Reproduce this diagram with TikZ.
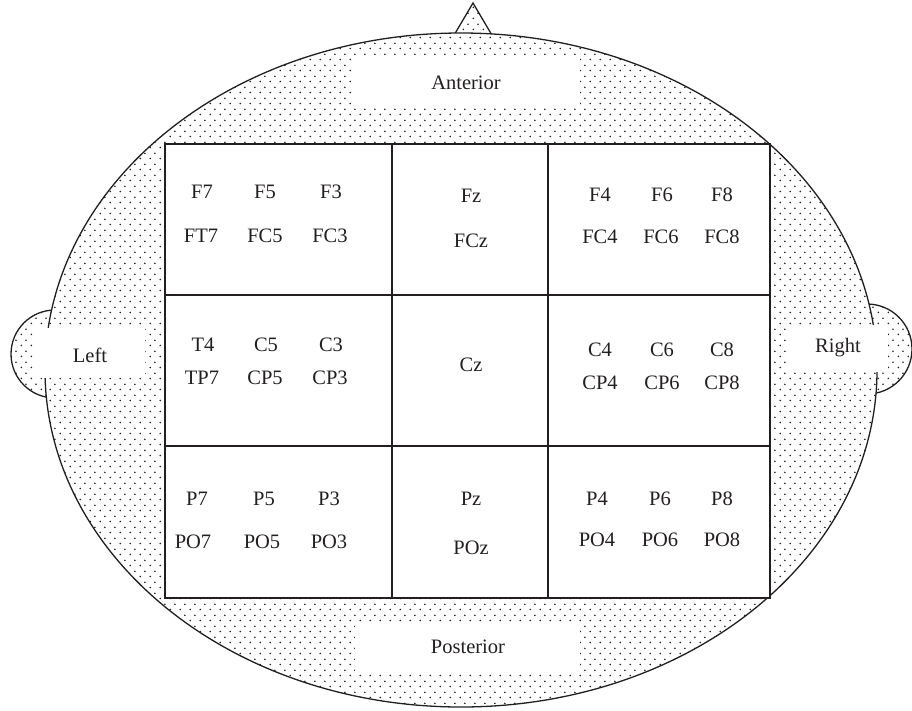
\documentclass[tikz,border=0pt]{standalone}
\usepackage{fontspec}
\setmainfont{Liberation Serif}
\usetikzlibrary{patterns.meta}
\pgfdeclarepattern{
  name=headdots,
  type=uncolored,
  bottom left={\pgfpoint{0pt}{0pt}},
  top right={\pgfpoint{9.6pt}{10.6pt}},
  tile size={\pgfpoint{9.6pt}{10.6pt}},
  code={
    \pgfpathcircle{\pgfpoint{2.4pt}{2.65pt}}{0.9pt}
    \pgfpathcircle{\pgfpoint{7.2pt}{7.95pt}}{0.9pt}
    \pgfusepath{fill}
  }
}
\definecolor{ink}{HTML}{231F20}
\tikzset{
  dotfill/.style={pattern=headdots, pattern color=ink},
  outline/.style={draw=ink, line width=1.3pt},
  whitebox/.style={fill=white, draw=none, inner sep=0pt},
  cell/.style={draw=ink, fill=white, line width=1.1pt, inner sep=0pt},
  lab/.style={inner sep=0pt, text=ink, font=\fontsize{20.5}{23}\selectfont},
}
\begin{document}
\begin{tikzpicture}[x=1pt,y=-1pt]
\useasboundingbox (0,0) rectangle (912,710);
% ears
\path[dotfill] (55,354) circle[radius=44];
\draw[outline] (55,354) circle[radius=44];
\path[dotfill] (867,349) circle[radius=45];
\draw[outline] (867,349) circle[radius=45];
% nose
\path[dotfill] (450,42) -- (473,3) -- (496,42) -- cycle;
\draw[outline, line join=miter] (450,42) -- (473,3) -- (496,42);
% head
\path[fill=white] (461,370) ellipse[x radius=416, y radius=337];
\path[dotfill] (461,370) ellipse[x radius=416, y radius=337];
\draw[outline] (461,370) ellipse[x radius=416, y radius=337];
% white label boxes
\node[whitebox, minimum width=228pt, minimum height=48pt] (antbox) at (466,81) {};
\node[whitebox, minimum width=225pt, minimum height=49pt] (posbox) at (467.5,647.5) {};
\node[whitebox, minimum width=110pt, minimum height=50pt] (leftbox) at (90,353) {};
\node[whitebox, minimum width=101pt, minimum height=47pt] (rightbox) at (837.5,348.5) {};
\node[lab] (ant) at (466,83) {Anterior};
\node[lab] (pos) at (468,647) {Posterior};
\node[lab] (left) at (90,355) {Left};
\node[lab] (right) at (838,348) {Right};
% grid cells
\node[cell, minimum width=227pt, minimum height=151pt] (c11) at (278.5,219.5) {};
\node[cell, minimum width=156pt, minimum height=151pt] (c12) at (470,219.5) {};
\node[cell, minimum width=222pt, minimum height=151pt] (c13) at (659,219.5) {};
\node[cell, minimum width=227pt, minimum height=151pt] (c21) at (278.5,370.5) {};
\node[cell, minimum width=156pt, minimum height=151pt] (c22) at (470,370.5) {};
\node[cell, minimum width=222pt, minimum height=151pt] (c23) at (659,370.5) {};
\node[cell, minimum width=227pt, minimum height=152pt] (c31) at (278.5,522) {};
\node[cell, minimum width=156pt, minimum height=152pt] (c32) at (470,522) {};
\node[cell, minimum width=222pt, minimum height=152pt] (c33) at (659,522) {};
% frontal
\node[lab] (F7) at (202,192) {F7};
\node[lab] (F5) at (265,192) {F5};
\node[lab] (F3) at (331,192) {F3};
\node[lab] (FT7) at (201,236) {FT7};
\node[lab] (FC5) at (265,236) {FC5};
\node[lab] (FC3) at (330,236) {FC3};
\node[lab] (Fz) at (471,196) {Fz};
\node[lab] (FCz) at (471,241) {FCz};
\node[lab] (F4) at (600,195) {F4};
\node[lab] (F6) at (662,195) {F6};
\node[lab] (F8) at (722,195) {F8};
\node[lab] (FC4) at (600,237) {FC4};
\node[lab] (FC6) at (661,237) {FC6};
\node[lab] (FC8) at (722,237) {FC8};
% central
\node[lab] (T4) at (203,345) {T4};
\node[lab] (C5) at (266,345) {C5};
\node[lab] (C3) at (331,345) {C3};
\node[lab] (TP7) at (202,378) {TP7};
\node[lab] (CP5) at (265,378) {CP5};
\node[lab] (CP3) at (330,378) {CP3};
\node[lab] (Cz) at (471,365) {Cz};
\node[lab] (C4) at (600,350) {C4};
\node[lab] (C6) at (662,350) {C6};
\node[lab] (C8) at (722,350) {C8};
\node[lab] (CP4) at (600,383) {CP4};
\node[lab] (CP6) at (662,383) {CP6};
\node[lab] (CP8) at (722,383) {CP8};
% parietal
\node[lab] (P7) at (197,499) {P7};
\node[lab] (P5) at (264,499) {P5};
\node[lab] (P3) at (329,499) {P3};
\node[lab] (PO7) at (193,542) {PO7};
\node[lab] (PO5) at (262,542) {PO5};
\node[lab] (PO3) at (329,542) {PO3};
\node[lab] (Pz) at (471,499) {Pz};
\node[lab] (POz) at (471,548) {POz};
\node[lab] (P4) at (597,499) {P4};
\node[lab] (P6) at (660,499) {P6};
\node[lab] (P8) at (722,499) {P8};
\node[lab] (PO4) at (597,540) {PO4};
\node[lab] (PO6) at (660,540) {PO6};
\node[lab] (PO8) at (722,540) {PO8};
\end{tikzpicture}
\end{document}
